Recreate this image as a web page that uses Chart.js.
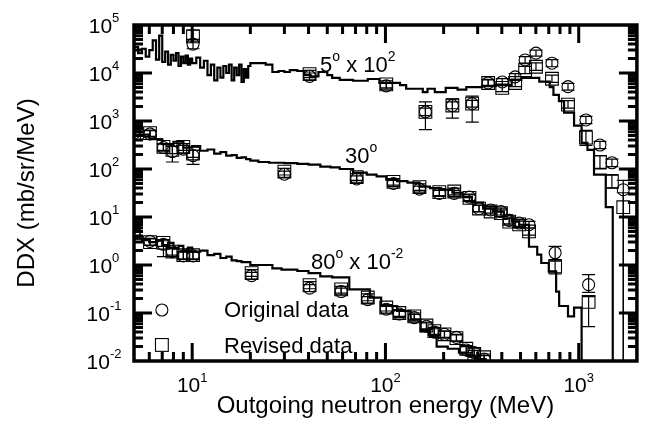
<!DOCTYPE html>
<html>
<head>
<meta charset="utf-8">
<script src="https://cdn.jsdelivr.net/npm/chart.js@4.4.0/dist/chart.umd.min.js"></script>
<style>
  html, body { margin: 0; padding: 0; background: #fff; }
  #wrap { width: 647px; height: 423px; }
</style>
</head>
<body>
<div id="wrap"><canvas id="ddx" width="647" height="423"></canvas></div>
<script>
// DDX spectra, three angles, calc (histogram) + original / revised data

// ---- 5 deg (x 10^2) ----
const e5 = [10.1, 40.5, 101, 161, 222, 281, 340, 402, 469, 528, 601, 727, 880, 1090, 1288, 1485, 1700];
const orig5 = [40000, 8500, 5400, 1550, 2100, 2300, 6200, 6500, 8300, 18700, 26000, 16000, 5200, 1050, 316, 135, 37];
const orig5Lo = [32000, 7200, 4600, 660, 1150, 950, 5300, 5500, 7100, 16000, 22500, 13500, 4400, 880, 265, 112, 0.001];
const orig5Hi = [50000, 10000, 6300, 2500, 2900, 3300, 7200, 7600, 9700, 22000, 30000, 19000, 6100, 1250, 375, 160, 58];
const rev5 = [58000, 9500, 5800, 1550, 2100, 2300, 6200, 4900, 6200, 11500, 13500, 7600, 2200, 450, 140, 55, 16];
const rev5Lo = [46000, 8000, 4900, 1300, 1800, 1950, 5200, 4100, 5200, 9700, 11300, 6400, 1850, 310, 100, 40, 0.001];
const rev5Hi = [78000, 11300, 6900, 1850, 2500, 2700, 7400, 5900, 7400, 13700, 16200, 9000, 2650, 640, 190, 76, 32];
const h5E = [5, 5.25, 5.5, 5.75, 6, 6.25, 6.5, 6.75, 7, 7.25, 7.5, 7.75, 8, 8.25, 8.5, 8.75, 9, 9.25, 9.5, 9.75,
  10, 10.5, 11, 11.5, 12, 12.5, 13, 13.5, 14, 14.5, 15, 15.5, 16, 16.5, 17, 17.5, 18, 18.5, 19, 19.5,
  20, 22, 24, 26, 28, 30, 32, 35, 38, 41, 45, 50, 53, 58, 68, 81, 93, 119, 128, 156, 165, 180, 205, 236, 262, 316, 372, 450, 505, 625,
  708, 740, 790, 840, 946, 1035, 1110, 1200, 1380, 1500, 2000];
const h5V = [35000, 26000, 32000, 22000, 30000, 48000, 19000, 60000, 17000, 28000, 15000, 24000, 18000, 26000, 14000, 22000, 16000, 23000, 15000, 20000,
  16000, 21000, 13000, 18000, 9000, 15000, 7000, 13000, 8000, 14000, 10000, 15000, 7000, 13000, 9000, 15000, 6500, 12000, 8000, 14000,
  16000, 16000, 15000, 10500, 11000, 10500, 11500, 11000, 9000, 8500, 10500, 9000, 7900, 7200, 6900, 7500, 6200, 5600, 4700, 4000, 4700, 4000, 4900, 4500, 5100, 5400, 5600, 7200, 7900, 6600,
  5100, 3500, 2600, 1500, 800, 350, 250, 76, 16, 0.001, 0.001];

// ---- 30 deg ----
const e30 = [5, 6.05, 7.1, 7.9, 9, 10.1, 30, 71, 110, 150, 190, 227, 272, 305, 350, 396, 437, 492, 553, 755, 1125];
const orig30 = [560, 540, 280, 230, 260, 190, 78, 62, 50, 38, 31, 31, 26, 15, 14, 13, 8.5, 7.5, 6.9, 1.8, 0.39];
const orig30Lo = [480, 460, 235, 140, 215, 125, 67, 53, 43, 33, 27, 27, 22, 13, 12, 11, 7.2, 6.4, 5.9, 1.3, 0.27];
const orig30Hi = [650, 630, 330, 300, 310, 245, 90, 72, 58, 44, 36, 36, 30, 17.5, 16.5, 15.2, 10, 8.8, 8.1, 2.45, 0.63];
const rev30 = [560, 560, 290, 250, 290, 210, 88, 68, 54, 42, 33, 34, 25, 15, 13, 12, 8, 7, 5, 0.93, 0.17];
const rev30Lo = [480, 480, 245, 210, 245, 175, 75, 58, 46, 36, 28, 29, 21, 12.8, 11, 10.2, 6.8, 6, 4.2, 0.65, 0.052];
const rev30Hi = [650, 650, 340, 295, 340, 245, 103, 80, 63, 49, 39, 40, 29, 17.6, 15.3, 14.1, 9.4, 8.2, 5.9, 1.2, 0.22];
const h30E = [5, 6, 7, 8, 9, 10, 11, 12, 13, 14, 15, 16, 17, 18, 19, 20, 22, 25, 30, 35, 40, 46, 52, 58, 68, 80, 90, 101, 115, 130,
  150, 170, 190, 222, 250, 280, 320, 360, 410, 450, 492, 553, 610, 640, 700, 764, 792, 880, 946, 1035, 2000];
const h30V = [520, 420, 330, 370, 280, 300, 240, 255, 210, 225, 190, 195, 170, 175, 160, 150, 140, 135, 132, 128, 123, 112, 108, 100, 84, 76, 70, 60, 56, 52,
  43, 40, 37, 32, 26, 20, 15, 13, 11, 8, 6.9, 2.4, 1.65, 1.1, 0.74, 0.28, 0.14, 0.085, 0.13, 0.001, 0.001];

// ---- 80 deg (x 10^-2) ----
const e80 = [5, 6.05, 7.1, 7.9, 9, 10.1, 20.3, 40.5, 59, 81, 101, 118, 141, 163, 179, 202, 233, 262, 288, 324];
const orig80 = [4.7, 3.1, 2.7, 1.9, 1.55, 1.55, 0.6, 0.33, 0.28, 0.19, 0.12, 0.095, 0.08, 0.053, 0.04, 0.036, 0.031, 0.017, 0.015, 0.011];
const orig80Lo = [4.0, 2.6, 1.5, 1.5, 1.3, 1.3, 0.51, 0.28, 0.24, 0.16, 0.1, 0.08, 0.068, 0.045, 0.034, 0.03, 0.026, 0.014, 0.0125, 0.009];
const orig80Hi = [5.5, 3.6, 3.2, 2.3, 1.85, 1.85, 0.7, 0.39, 0.33, 0.22, 0.14, 0.112, 0.094, 0.062, 0.047, 0.042, 0.036, 0.02, 0.018, 0.013];
const rev80 = [4.7, 3.0, 2.9, 1.9, 1.6, 1.6, 0.68, 0.38, 0.31, 0.21, 0.13, 0.1, 0.085, 0.055, 0.042, 0.036, 0.03, 0.018, 0.014, 0.012];
const rev80Lo = [4.0, 2.55, 2.45, 1.6, 1.35, 1.35, 0.58, 0.32, 0.26, 0.18, 0.11, 0.085, 0.072, 0.047, 0.036, 0.031, 0.026, 0.015, 0.012, 0.01];
const rev80Hi = [5.5, 3.5, 3.4, 2.2, 1.9, 1.9, 0.8, 0.45, 0.36, 0.25, 0.15, 0.118, 0.1, 0.065, 0.05, 0.042, 0.035, 0.021, 0.0165, 0.014];
const h80E = [5, 5.5, 6, 6.5, 7, 7.5, 8, 8.5, 9, 9.5, 10, 11, 12, 13, 14, 15, 16, 17, 18, 20, 23, 26, 29, 35, 40, 46, 53, 65, 83, 95,
  115, 135, 152, 170, 184, 210, 240, 262, 290, 330, 2000];
const h80V = [3.6, 3.3, 3.0, 3.2, 2.6, 2.9, 2.2, 2.5, 2.0, 2.3, 1.9, 2.0, 1.6, 1.7, 1.4, 1.5, 1.25, 1.2, 1.15, 1.0, 1.0, 0.85, 0.8, 0.75, 0.68, 0.58, 0.55, 0.31, 0.21, 0.14,
  0.11, 0.074, 0.042, 0.033, 0.02, 0.018, 0.015, 0.013, 0.011, 0.001, 0.001];

// axes
const xMajor = [10, 100, 1000];
const xMajorExp = ['1', '2', '3'];
const yMajor = [1e-2, 1e-1, 1, 10, 100, 1e3, 1e4, 1e5];
const yMajorExp = ['-2', '-1', '0', '1', '2', '3', '4', '5'];
// legend symbol anchor (data units)
const legE = 6.97;
const legY = [0.1155, 0.0216];

const FONT = '"Liberation Sans", Arial, Helvetica, sans-serif';

const pts = (xs, ys) => xs.map((x, i) => ({ x: x, y: ys[i] }));

function histo(xs, ys) {
  return { data: pts(xs, ys), showLine: true, stepped: true, pointRadius: 0, borderColor: '#000', borderWidth: 2.2, fill: false };
}
function marks(xs, ys, lo, hi, style) {
  return {
    data: pts(xs, ys), showLine: false, pointStyle: style,
    pointRadius: style === 'rect' ? 9 : 6, pointBorderWidth: 1.1,
    pointBorderColor: '#000', pointBackgroundColor: 'rgba(0,0,0,0)',
    errLo: lo, errHi: hi
  };
}

// draw "10" + superscript etc; parts = [[text, isSup], ...]
function supText(ctx, parts, x, y, size, center) {
  const small = Math.round(size * 0.64);
  let w = 0;
  parts.forEach(p => { ctx.font = (p[1] ? small : size) + 'px ' + FONT; w += ctx.measureText(p[0]).width; });
  let cx = center ? x - w / 2 : x;
  ctx.textAlign = 'left';
  ctx.textBaseline = 'alphabetic';
  parts.forEach(p => {
    ctx.font = (p[1] ? small : size) + 'px ' + FONT;
    ctx.fillText(p[0], cx, p[1] ? y - size * 0.5 : y);
    cx += ctx.measureText(p[0]).width;
  });
}

const framePlugin = {
  id: 'frame',
  afterDatasetsDraw(chart) {
    const { ctx, chartArea: a, scales: { x, y } } = chart;
    ctx.save();
    ctx.fillStyle = '#000';
    ctx.strokeStyle = '#000';

    // error bars
    chart.data.datasets.forEach((ds, di) => {
      if (!ds.errLo) return;
      const meta = chart.getDatasetMeta(di);
      ctx.save();
      ctx.beginPath();
      ctx.rect(a.left, a.top, a.right - a.left, a.bottom - a.top);
      ctx.clip();
      ctx.lineWidth = 1.2;
      meta.data.forEach((pt, i) => {
        const yl = y.getPixelForValue(ds.errLo[i]);
        const yh = y.getPixelForValue(ds.errHi[i]);
        ctx.beginPath();
        ctx.moveTo(pt.x, yl); ctx.lineTo(pt.x, yh);
        ctx.moveTo(pt.x - 6.5, yl); ctx.lineTo(pt.x + 6.5, yl);
        ctx.moveTo(pt.x - 6.5, yh); ctx.lineTo(pt.x + 6.5, yh);
        ctx.stroke();
      });
      ctx.restore();
    });

    // ticks, inward on all four sides
    ctx.lineWidth = 3;
    ctx.lineCap = 'butt';
    const tick = (px, len, horiz) => {
      ctx.beginPath();
      if (horiz) {
        ctx.moveTo(px, a.bottom); ctx.lineTo(px, a.bottom - len);
        ctx.moveTo(px, a.top); ctx.lineTo(px, a.top + len);
      } else {
        ctx.moveTo(a.left, px); ctx.lineTo(a.left + len, px);
        ctx.moveTo(a.right, px); ctx.lineTo(a.right - len, px);
      }
      ctx.stroke();
    };
    [1, 10, 100, 1000].forEach(d => {
      for (let m = 1; m <= 9; m++) {
        const v = m * d;
        if (v <= x.min || v >= x.max) continue;
        tick(x.getPixelForValue(v), m === 1 ? 18 : 9, true);
      }
    });
    yMajor.forEach(d => {
      for (let m = 1; m <= 9; m++) {
        const v = m * d;
        if (v <= y.min || v >= y.max) continue;
        tick(y.getPixelForValue(v), m === 1 ? 18 : 9, false);
      }
    });

    // frame
    ctx.lineWidth = 3.5;
    ctx.strokeRect(a.left, a.top, a.right - a.left, a.bottom - a.top);

    // tick labels
    xMajor.forEach((v, i) => supText(ctx, [['10', false], [xMajorExp[i], true]], x.getPixelForValue(v), 392, 21, true));
    yMajor.forEach((v, i) => supText(ctx, [['10', false], [yMajorExp[i], true]], 104, y.getPixelForValue(v) + 7.5, 21, true));

    // axis titles
    ctx.font = '24px ' + FONT;
    ctx.textAlign = 'center';
    ctx.textBaseline = 'alphabetic';
    ctx.fillText('Outgoing neutron energy (MeV)', (a.left + a.right) / 2, 413);
    ctx.save();
    ctx.translate(27, (a.top + a.bottom) / 2);
    ctx.rotate(-Math.PI / 2);
    ctx.textBaseline = 'middle';
    ctx.fillText('DDX (mb/sr/MeV)', 0, 0);
    ctx.restore();

    // curve labels
    supText(ctx, [['5', false], ['o', true], [' x 10', false], ['2', true]], 320, 72, 22, false);
    supText(ctx, [['30', false], ['o', true]], 345, 163, 22, false);
    supText(ctx, [['80', false], ['o', true], [' x 10', false], ['-2', true]], 311, 269, 22, false);

    // legend
    const lx = x.getPixelForValue(legE);
    ctx.lineWidth = 1.1;
    ctx.beginPath();
    ctx.arc(lx, y.getPixelForValue(legY[0]), 6, 0, Math.PI * 2);
    ctx.stroke();
    const sy = y.getPixelForValue(legY[1]);
    ctx.strokeRect(lx - 6.4, sy - 6.4, 12.8, 12.8);
    ctx.font = '22px ' + FONT;
    ctx.textAlign = 'left';
    ctx.fillText('Original data', 224, 317);
    ctx.fillText('Revised data', 224, 353);
    ctx.restore();
  }
};

new Chart(document.getElementById('ddx'), {
  type: 'scatter',
  data: {
    datasets: [
      histo(h5E, h5V), histo(h30E, h30V), histo(h80E, h80V),
      marks(e5, orig5, orig5Lo, orig5Hi, 'circle'), marks(e5, rev5, rev5Lo, rev5Hi, 'rect'),
      marks(e30, orig30, orig30Lo, orig30Hi, 'circle'), marks(e30, rev30, rev30Lo, rev30Hi, 'rect'),
      marks(e80, orig80, orig80Lo, orig80Hi, 'circle'), marks(e80, rev80, rev80Lo, rev80Hi, 'rect')
    ]
  },
  options: {
    responsive: false,
    animation: false,
    devicePixelRatio: 1,
    events: [],
    layout: { padding: { left: 134, right: 9, top: 25, bottom: 62 } },
    plugins: { legend: { display: false }, tooltip: { enabled: false } },
    scales: {
      x: { type: 'logarithmic', min: 5, max: 2000, display: false },
      y: { type: 'logarithmic', min: 0.01, max: 1e5, display: false }
    }
  },
  plugins: [framePlugin]
});
</script>
</body>
</html>
